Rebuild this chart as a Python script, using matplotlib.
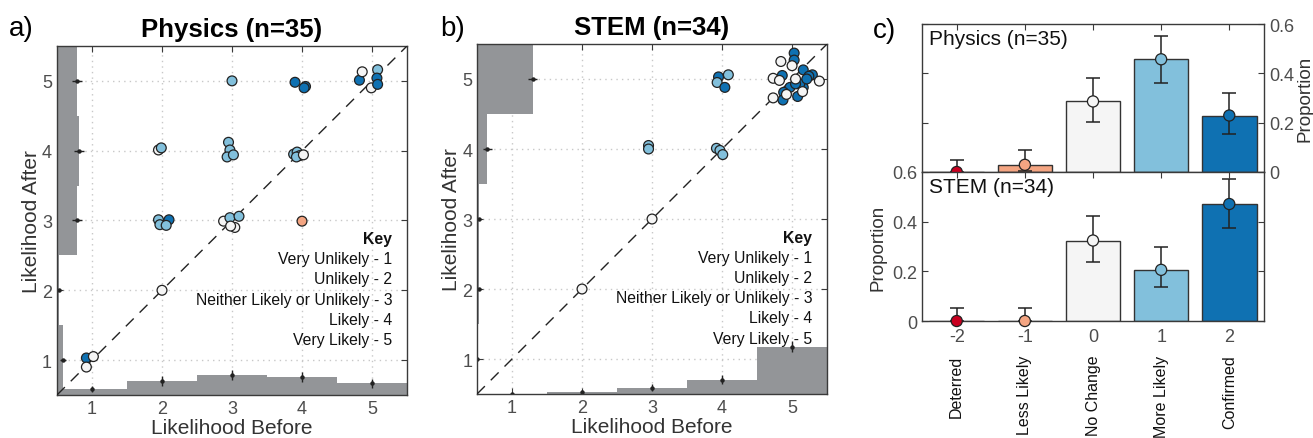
import matplotlib as mpl
import matplotlib.pyplot as plt
mpl.use('Agg')

plt.rcParams['font.family'] = ['Liberation Sans', 'DejaVu Sans']

# colours for the five response groups (-2 .. 2)
RED, SAL, WHT, LBL, DBL = '#ca0020', '#f4a582', '#f5f5f5', '#82c0dc', '#0f71b2'
HISTC = '#939598'

# ---- Physics (n=35): jittered scatter points
phys_x = [0.92, 1.02, 0.92,
          1.95, 1.99, 1.95, 2.10, 1.97, 2.06, 2.00,
          3.00, 2.95, 2.97, 2.93, 3.02, 2.88, 2.97, 3.10, 3.04, 2.98,
          3.90, 4.05, 4.03, 3.88, 3.93, 3.97, 3.92, 4.02, 4.00,
          4.82, 4.86, 4.99, 5.08, 5.07, 5.08]
phys_y = [1.03, 1.05, 0.90,
          4.01, 4.04, 3.01, 3.01, 2.94, 2.93, 2.00,
          5.00, 4.12, 4.01, 3.91, 3.94, 2.99, 3.04, 3.06, 2.90, 2.92,
          4.98, 4.92, 4.90, 3.95, 3.98, 3.93, 3.91, 3.94, 2.99,
          5.01, 5.13, 4.90, 5.16, 5.04, 4.95]
phys_c = [DBL, WHT, WHT,
          WHT, LBL, LBL, DBL, LBL, LBL, WHT,
          LBL, LBL, LBL, LBL, LBL, WHT, LBL, LBL, WHT, WHT,
          DBL, DBL, DBL, LBL, LBL, LBL, LBL, WHT, SAL,
          DBL, WHT, WHT, LBL, DBL, DBL]

# ---- STEM (n=34): jittered scatter points
stem_x = [2.00, 3.00, 2.95, 2.95, 3.92, 3.97, 4.01,
          3.95, 4.09, 3.93, 4.04,
          5.03, 5.03, 5.16, 5.29, 5.24, 4.86, 4.97, 4.88, 5.08, 5.16, 5.11, 4.87, 5.21, 5.05,
          4.84, 5.00, 4.73, 4.82, 5.39, 4.73, 4.92, 5.05, 5.15]
stem_y = [2.00, 3.00, 4.05, 4.00, 4.01, 3.98, 3.92,
          5.03, 5.06, 4.95, 4.88,
          5.37, 5.27, 5.13, 5.06, 5.04, 5.05, 4.88, 4.81, 4.75, 4.88, 4.93, 4.70, 5.00, 4.93,
          5.25, 5.19, 5.01, 4.98, 4.97, 4.73, 4.78, 5.00, 4.82]
stem_c = [WHT, WHT, LBL, LBL, LBL, LBL, LBL,
          DBL, LBL, LBL, DBL,
          DBL, DBL, DBL, DBL, DBL, DBL, DBL, DBL, DBL, DBL, DBL, DBL, DBL, DBL,
          WHT, WHT, WHT, WHT, WHT, WHT, WHT, WHT, WHT]

# ---- marginal proportions (bins 1..5) and their errors
levels = [1, 2, 3, 4, 5]
phys_before = [0.086, 0.200, 0.286, 0.257, 0.171]
phys_before_err = [0.047, 0.068, 0.076, 0.074, 0.064]
phys_after = [0.086, 0.029, 0.286, 0.314, 0.286]
phys_after_err = [0.047, 0.028, 0.076, 0.078, 0.076]
stem_before = [0.0, 0.029, 0.088, 0.206, 0.676]
stem_before_err = [0.0, 0.029, 0.049, 0.069, 0.080]
stem_after = [0.0, 0.029, 0.029, 0.147, 0.794]
stem_after_err = [0.0, 0.029, 0.029, 0.061, 0.069]

# ---- panel c: change categories
change = [-2, -1, 0, 1, 2]
change_names = ['Deterred', 'Less Likely', 'No Change', 'More Likely', 'Confirmed']
change_cols = [RED, SAL, WHT, LBL, DBL]
phys_prop = [0.0, 0.029, 0.286, 0.457, 0.229]
phys_lo = [0.0, 0.003, 0.202, 0.360, 0.152]
phys_hi = [0.050, 0.090, 0.382, 0.553, 0.320]
stem_prop = [0.0, 0.0, 0.324, 0.206, 0.471]
stem_lo = [0.0, 0.0, 0.236, 0.135, 0.373]
stem_hi = [0.054, 0.054, 0.423, 0.299, 0.570]

key_lines = ['Very Unlikely - 1', 'Unlikely - 2', 'Neither Likely or Unlikely - 3',
             'Likely - 4', 'Very Likely - 5']

TXT = '#333333'
TICK = '#4d4d4d'


def style_axes(ax):
    for s in ax.spines.values():
        s.set_color('#3a3a3a')
        s.set_linewidth(1.0)
    ax.tick_params(direction='in', top=True, right=True, length=4,
                   colors='#3a3a3a', labelcolor=TICK, labelsize=13)


def scatter_panel(ax, xs, ys, cs, before, before_err, after, after_err, title):
    ax.set_xlim(0.5, 5.5)
    ax.set_ylim(0.5, 5.5)
    ax.grid(True, linestyle=(0, (1, 3)), color='#c8c8c8', linewidth=1.0, zorder=0)
    ax.set_axisbelow(True)
    # marginal histograms
    ax.bar(levels, before, width=1.0, bottom=0.5, color=HISTC, zorder=1)
    ax.barh(levels, after, height=1.0, left=0.5, color=HISTC, zorder=1)
    ax.errorbar(levels, [0.5 + b for b in before], yerr=before_err, fmt='o', color='#222222',
                ms=2.2, elinewidth=1.0, capsize=0, zorder=2)
    ax.errorbar([0.5 + a for a in after], levels, xerr=after_err, fmt='o', color='#222222',
                ms=2.2, elinewidth=1.0, capsize=0, zorder=2)
    ax.plot([0.5, 5.5], [0.5, 5.5], color='#222222', linestyle=(0, (8, 6)), linewidth=1.0, zorder=3)
    ax.scatter(xs, ys, s=50, c=cs, edgecolors='#222222', linewidths=0.9, zorder=4)
    ax.set_xticks(levels)
    ax.set_yticks(levels)
    style_axes(ax)
    ax.set_xlabel('Likelihood Before', fontsize=15, color=TXT, labelpad=1)
    ax.set_ylabel('Likelihood After', fontsize=15, color=TXT, labelpad=1)
    ax.set_title(title, fontsize=18.5, fontweight='bold', pad=7)
    ax.text(5.29, 2.74, 'Key', ha='right', va='center', fontsize=11.3, fontweight='bold',
            color='#111111', zorder=5)
    for i, line in enumerate(key_lines):
        ax.text(5.29, 2.45 - 0.288 * i, line, ha='right', va='center', fontsize=11.3,
                color='#111111', zorder=5)


fig = plt.figure(figsize=(13.13, 4.39), dpi=100)

ax_a = fig.add_axes([0.0434, 0.098, 0.2666, 0.795])
scatter_panel(ax_a, phys_x, phys_y, phys_c, phys_before, phys_before_err,
              phys_after, phys_after_err, 'Physics (n=35)')

ax_b = fig.add_axes([0.3633, 0.1002, 0.2666, 0.7973])
scatter_panel(ax_b, stem_x, stem_y, stem_c, stem_before, stem_before_err,
              stem_after, stem_after_err, 'STEM (n=34)')

# ---- panel c
ax_ct = fig.add_axes([0.7022, 0.606, 0.2605, 0.337])
ax_cb = fig.add_axes([0.7022, 0.2665, 0.2605, 0.3395])


def bar_panel(ax, props, lo, hi, label):
    ax.set_xlim(-2.51, 2.51)
    ax.set_ylim(0, 0.6)
    ax.bar(change, props, width=0.8, color=change_cols, edgecolor='#333333', linewidth=1.0, zorder=2)
    yerr = [[p - l for p, l in zip(props, lo)], [h - p for p, h in zip(props, hi)]]
    ax.errorbar(change, props, yerr=yerr, fmt='none', ecolor='#222222', elinewidth=1.1,
                capsize=5, capthick=1.1, zorder=3, clip_on=False)
    ax.scatter(change, props, s=64, c=change_cols, edgecolors='#222222', linewidths=0.9,
               zorder=4, clip_on=False)
    ax.set_xticks(change)
    ax.set_yticks([0, 0.2, 0.4, 0.6])
    style_axes(ax)
    ax.text(0.02, 0.90, label, transform=ax.transAxes, fontsize=15, color='#111111',
            ha='left', va='center')


bar_panel(ax_ct, phys_prop, phys_lo, phys_hi, 'Physics (n=35)')
ax_ct.tick_params(labelbottom=False, labelleft=False, labelright=True)
ax_ct.set_yticklabels(['0', '0.2', '0.4', '0.6'])
ax_ct.yaxis.set_label_position('right')
ax_ct.set_ylabel('Proportion', fontsize=13.5, color=TXT, labelpad=2)

bar_panel(ax_cb, stem_prop, stem_lo, stem_hi, 'STEM (n=34)')
ax_cb.set_yticklabels(['0', '0.2', '0.4', '0.6'])
ax_cb.set_xticklabels([str(c) for c in change])
ax_cb.tick_params(axis='x', pad=5)
ax_cb.set_ylabel('Proportion', fontsize=13.5, color=TXT, labelpad=4)
for c, name in zip(change, change_names):
    ax_cb.text(c, -0.225, name, transform=ax_cb.get_xaxis_transform(), rotation=90,
               ha='center', va='top', fontsize=11.5, color='#111111')

# panel letters
fig.text(0.007, 0.935, 'a)', fontsize=20, ha='left', va='center')
fig.text(0.335, 0.935, 'b)', fontsize=20, ha='left', va='center')
fig.text(0.665, 0.930, 'c)', fontsize=20, ha='left', va='center')

fig.savefig('out.png', dpi=100)
